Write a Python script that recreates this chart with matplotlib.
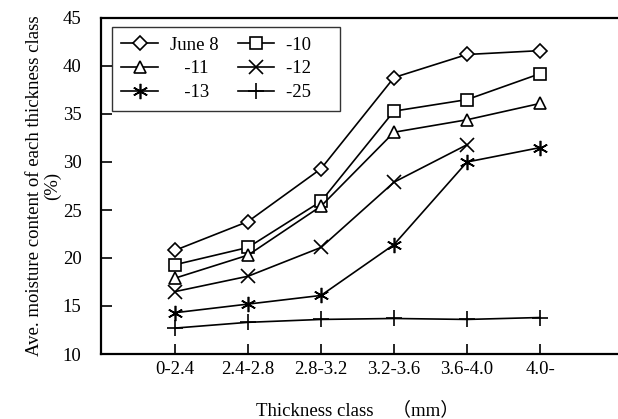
import matplotlib
matplotlib.use("Agg")
import matplotlib.pyplot as plt

categories = ["0-2.4", "2.4-2.8", "2.8-3.2", "3.2-3.6", "3.6-4.0", "4.0-"]
series_labels = ["June 8", "-10", "-11", "-12", "-13", "-25"]
june8 = [20.8, 23.8, 29.3, 38.8, 41.2, 41.6]
d10 = [19.3, 21.1, 25.9, 35.3, 36.5, 39.2]
d11 = [17.9, 20.3, 25.4, 33.1, 34.4, 36.1]
d12 = [16.5, 18.1, 21.1, 27.9, 31.8]
d13 = [14.3, 15.2, 16.1, 21.4, 30.0, 31.5]
d25 = [12.7, 13.3, 13.6, 13.7, 13.6, 13.8]
yticks = [10, 15, 20, 25, 30, 35, 40, 45]

plt.rcParams['font.family'] = ['Liberation Serif', 'Noto Sans CJK SC']

FS = 13.5
fig = plt.figure(figsize=(6.18, 4.19), dpi=100)
W, H = 618, 419
ax = fig.add_axes([101 / W, (H - 354) / H, 530 / W, 336 / H])

data = [june8, d10, d11, d12, d13, d25]
markers = ['D', 's', '^', 'x', (6, 2, 0), '+']
msizes = [7, 8, 9, 10, 11, 11]
handles = []
for vals, m, ms, lab in zip(data, markers, msizes, series_labels):
    xs = list(range(len(vals)))
    h, = ax.plot(xs, vals, color='black', lw=1.2, marker=m, markersize=ms,
                 markerfacecolor='white', markeredgecolor='black',
                 markeredgewidth=1.2, label=lab)
    handles.append(h)

ax.set_xlim(-1.014, -1.014 + 530 / 73)
ax.set_ylim(10, 45)
ax.set_yticks(yticks)
ax.set_xticks(range(len(categories)))
ax.set_xticklabels(categories, fontsize=FS)
ax.tick_params(axis='y', direction='in', length=8, width=1.2, labelsize=FS, pad=14)
ax.tick_params(axis='x', direction='in', length=7, width=1.2, pad=5)
for s in ax.spines.values():
    s.set_linewidth(1.6)

ax.set_ylabel("Ave. moisture content of each thickness class\n(%)", fontsize=FS,
              linespacing=1.1, labelpad=1)
fig.text(358 / W, 1 - 410 / H, "Thickness class\u3000（mm）", fontsize=FS,
         ha='center', va='center')

order = [0, 2, 4, 1, 3, 5]
labels_disp = ["June 8", "   -11", "   -13", "-10    ", "-12    ", "-25    "]
leg = ax.legend([handles[i] for i in order], labels_disp,
                ncol=2, loc='upper left', bbox_to_anchor=(11 / 530, (354 - 27) / 336),
                borderaxespad=0, fontsize=FS, frameon=True, fancybox=False,
                edgecolor='black', handlelength=1.95, handletextpad=0.65,
                columnspacing=1.0, labelspacing=0.36, borderpad=0.5)
leg.get_frame().set_linewidth(1.0)

fig.savefig("out.png", dpi=100)
